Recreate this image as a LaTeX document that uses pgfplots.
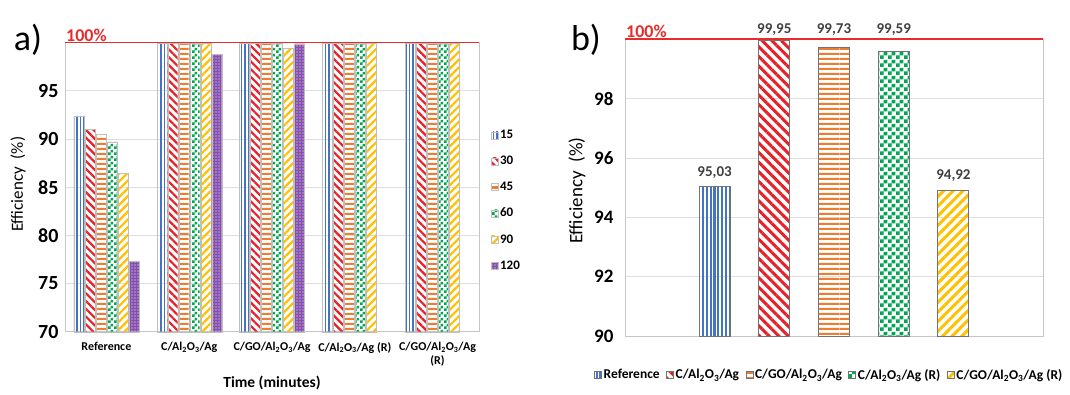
\documentclass[border=0pt]{standalone}
\usepackage{fontspec}
\setmainfont{Carlito}
\usepackage{pgfplots}
\pgfplotsset{compat=1.18}
\usetikzlibrary{patterns,patterns.meta}

\definecolor{cblue}{RGB}{68,114,196}
\definecolor{cred}{RGB}{232,32,40}
\definecolor{corange}{RGB}{237,125,49}
\definecolor{cgreen}{RGB}{0,166,80}
\definecolor{cyellow}{RGB}{255,192,0}
\definecolor{cpurple}{RGB}{112,48,160}
\definecolor{redline}{RGB}{232,44,44}

\pgfdeclarepatternformonly{checkS}{\pgfqpoint{0pt}{0pt}}{\pgfqpoint{6pt}{6pt}}{\pgfqpoint{6pt}{6pt}}{%
  \pgfpathrectangle{\pgfqpoint{0pt}{0pt}}{\pgfqpoint{3pt}{3pt}}%
  \pgfpathrectangle{\pgfqpoint{3pt}{3pt}}{\pgfqpoint{3pt}{3pt}}%
  \pgfusepath{fill}}
\pgfdeclarepatternformonly{checkB}{\pgfqpoint{0pt}{0pt}}{\pgfqpoint{8pt}{8pt}}{\pgfqpoint{8pt}{8pt}}{%
  \pgfpathrectangle{\pgfqpoint{0pt}{0pt}}{\pgfqpoint{4pt}{4pt}}%
  \pgfpathrectangle{\pgfqpoint{4pt}{4pt}}{\pgfqpoint{4pt}{4pt}}%
  \pgfusepath{fill}}
\pgfdeclarepatternformonly{hstripes}{\pgfqpoint{0pt}{0pt}}{\pgfqpoint{60pt}{5pt}}{\pgfqpoint{60pt}{5pt}}{%
  \pgfpathrectangle{\pgfqpoint{0pt}{0pt}}{\pgfqpoint{60pt}{2.5pt}}%
  \pgfusepath{fill}}

\begin{document}
\begin{tikzpicture}
\useasboundingbox (0,0) rectangle (1070pt,394pt);

\node[font=\fontsize{36}{36}\selectfont] at (28pt,354pt) {a)};
\node[font=\fontsize{36}{36}\selectfont] at (586pt,354pt) {b)};

% ---------------- Panel a ----------------
\begin{axis}[
  at={(65pt,62.3pt)}, anchor=south west, scale only axis,
  width=414pt, height=289pt,
  ybar=1pt, bar width=10pt,
  ymin=70, ymax=100, ytick={70,75,...,95},
  xmin=-0.5, xmax=4.5, xtick={0,...,4},
  xticklabels={Reference, C/Al\textsubscript{2}O\textsubscript{3}/Ag, C/GO/Al\textsubscript{2}O\textsubscript{3}/Ag, C/Al\textsubscript{2}O\textsubscript{3}/Ag (R), {C/GO/Al\textsubscript{2}O\textsubscript{3}/Ag\\(R)}},
  xticklabel style={font=\bfseries\fontsize{12}{14}\selectfont, align=center, yshift=-7pt},
  yticklabel style={font=\bfseries\fontsize{20}{20}\selectfont, xshift=-3pt},
  /pgf/number format/assume math mode=true,
  major tick length=0pt,
  ymajorgrids, grid style={gray!25, line width=0.8pt},
  axis line style={gray!45, line width=0.8pt},
  clip=false,
  ylabel={Efficiency\ \ (\%)},
  every axis y label/.style={at={(axis description cs:-0.1135,0.51)}, rotate=90, anchor=center, font=\fontsize{17}{17}\selectfont},
  xlabel={Time (minutes)},
  every axis x label/.style={at={(axis description cs:0.5,-0.176)}, anchor=center, font=\bfseries\fontsize{15.5}{16}\selectfont},
  legend style={at={(axis description cs:1.022,0.71)}, anchor=north west, draw=none,
    font=\bfseries\fontsize{13}{13}\selectfont, row sep=13pt, nodes={inner sep=1.5pt}},
  legend cell align=left,
  legend image code/.code={\draw[#1] (0pt,-3.5pt) rectangle (7pt,3.5pt);},
]
\addplot[draw=gray!50, line width=0.3pt, pattern={Lines[angle=90,distance=3.5pt,line width=1.6pt]}, pattern color=cblue]
  coordinates {(0,92.4) (1,100) (2,100) (3,100) (4,100)};
\addlegendentry{15}
\addplot[draw=gray!50, line width=0.3pt, pattern={Lines[angle=-45,distance=5.5pt,line width=2.2pt]}, pattern color=cred]
  coordinates {(0,91.0) (1,100) (2,100) (3,100) (4,100)};
\addlegendentry{30}
\addplot[draw=gray!50, line width=0.3pt, pattern=hstripes, pattern color=corange]
  coordinates {(0,90.5) (1,100) (2,100) (3,100) (4,100)};
\addlegendentry{45}
\addplot[draw=gray!50, line width=0.3pt, pattern=checkS, pattern color=cgreen]
  coordinates {(0,89.7) (1,100) (2,100) (3,100) (4,100)};
\addlegendentry{60}
\addplot[draw=gray!50, line width=0.3pt, pattern={Lines[angle=45,distance=5.5pt,line width=2.2pt]}, pattern color=cyellow]
  coordinates {(0,86.5) (1,100) (2,99.4) (3,100) (4,100)};
\addlegendentry{90}
\addplot[draw=gray!50, line width=0.3pt, fill=cpurple!85, postaction={pattern={Dots[radius=0.7pt,distance=3pt]}, pattern color=white}]
  coordinates {(0,77.3) (1,98.8) (2,99.9)};
\addlegendentry{120}
\draw[redline, line width=1.6pt] (rel axis cs:0,1) -- (rel axis cs:1,1);
\node[anchor=south west, inner sep=1pt, text=redline, font=\bfseries\fontsize{18}{18}\selectfont] at (rel axis cs:0,1) {100\%};
\end{axis}

% ---------------- Panel b ----------------
\begin{axis}[
  at={(625pt,58pt)}, anchor=south west, scale only axis,
  width=418pt, height=296.7pt,
  ybar, bar width=31pt,
  ymin=90, ymax=100, ytick={90,92,...,98},
  xmin=-0.5, xmax=6.5, xtick=\empty,
  yticklabel style={font=\bfseries\fontsize{19}{20}\selectfont, xshift=-8pt},
  /pgf/number format/assume math mode=true,
  major tick length=0pt,
  ymajorgrids, grid style={gray!25, line width=0.8pt},
  axis line style={gray!45, line width=0.8pt},
  clip=false,
  ylabel={Efficiency\ \ (\%)},
  every axis y label/.style={at={(axis description cs:-0.1148,0.49)}, rotate=90, anchor=center, font=\fontsize{19}{19}\selectfont},
  nodes near coords={\pgfmathprintnumber[fixed,fixed zerofill,precision=2,use comma]{\pgfplotspointmeta}},
  nodes near coords style={font=\bfseries\fontsize{15}{15}\selectfont, text=black!75, anchor=south, inner sep=0pt},
  legend columns=-1,
  legend style={at={(axis description cs:0.488,-0.131)}, anchor=center, draw=none,
    font=\bfseries\fontsize{13.5}{14}\selectfont, nodes={inner sep=1.5pt},
    /tikz/every even column/.append style={column sep=5pt}},
  legend image code/.code={\draw[#1] (0pt,-3.5pt) rectangle (7pt,3.5pt);},
]
\addplot[bar shift=0pt, draw=black!55, line width=1pt, pattern={Lines[angle=90,distance=3.8pt,line width=2.2pt]}, pattern color=cblue,
  nodes near coords style={yshift=8pt}]
  coordinates {(1,95.03)};
\addlegendentry{Reference}
\addplot[bar shift=0pt, draw=black!55, line width=1pt, pattern={Lines[angle=-45,distance=6.8pt,line width=3pt]}, pattern color=cred,
  nodes near coords style={yshift=5pt}]
  coordinates {(2,99.95)};
\addlegendentry{C/Al\textsubscript{2}O\textsubscript{3}/Ag}
\addplot[bar shift=0pt, draw=black!55, line width=1pt, pattern=hstripes, pattern color=corange,
  nodes near coords style={yshift=11pt}]
  coordinates {(3,99.73)};
\addlegendentry{C/GO/Al\textsubscript{2}O\textsubscript{3}/Ag}
\addplot[bar shift=0pt, draw=black!55, line width=1pt, pattern=checkB, pattern color=cgreen,
  nodes near coords style={yshift=15pt}]
  coordinates {(4,99.59)};
\addlegendentry{C/Al\textsubscript{2}O\textsubscript{3}/Ag (R)}
\addplot[bar shift=0pt, draw=black!55, line width=1pt, pattern={Lines[angle=45,distance=6.8pt,line width=3pt]}, pattern color=cyellow,
  nodes near coords style={yshift=8pt}]
  coordinates {(5,94.92)};
\addlegendentry{C/GO/Al\textsubscript{2}O\textsubscript{3}/Ag (R)}
\draw[redline, line width=1.6pt] (rel axis cs:0,1) -- (rel axis cs:1,1);
\node[anchor=south west, inner sep=1pt, text=redline, font=\bfseries\fontsize{18}{18}\selectfont] at (rel axis cs:0,1) {100\%};
\end{axis}
\end{tikzpicture}
\end{document}
